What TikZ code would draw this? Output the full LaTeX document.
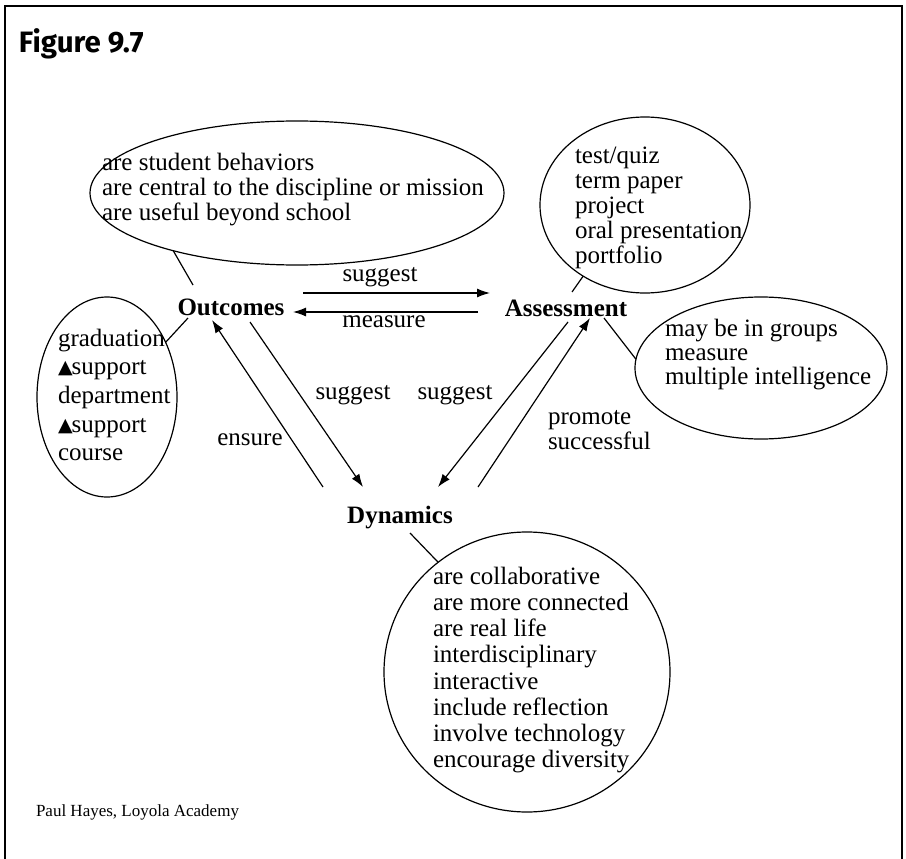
\documentclass[tikz,border=0pt]{standalone}
\usepackage{fontspec}
\setmainfont{Liberation Serif}
\newfontfamily\titlefont{Fira Sans}
\newfontfamily\symfont{DejaVu Sans}
\usetikzlibrary{shapes.geometric,arrows.meta,calc}
\newcommand{\upmark}{\raisebox{1pt}{\symfont\fontsize{19}{19}\selectfont ▲}\kern-1pt}
\begin{document}
\begin{tikzpicture}[x=1pt,y=-1pt,
  every node/.style={inner sep=0pt, outer sep=0pt},
  bubble/.style={draw, ellipse, line width=1.2pt, inner sep=0pt},
  listtext/.style={align=left, anchor=west},
  concept/.style={font=\fontsize{25}{25}\selectfont\bfseries},
  linklabel/.style={font=\fontsize{25}{25}\selectfont},
  link/.style={line width=1.2pt},
  flow/.style={line width=1.2pt, -{Latex[length=13pt,width=9pt]}},
]
\useasboundingbox (0,0) rectangle (906,859);

% outer frame, open at the bottom
\draw[line width=2.2pt] (5,859) -- (5,6) -- (902,6) -- (902,859);

\node[anchor=west, font=\titlefont\bfseries\fontsize{29.5}{29.5}\selectfont] (title) at (19,44) {Figure 9.7};

% the three concepts
\node[concept] (outc) at (231,307) {Outcomes};
\node[concept] (asmt) at (566,308) {Assessment};
\node[concept] (dyn) at (400,518) {Dynamics};

% attribute bubbles
\node[bubble, minimum width=414pt, minimum height=144pt] (topE) at (297,193) {};
\node[listtext, font=\fontsize{25}{25}\selectfont] (topT) at (102,190)
  {are student behaviors\\are central to the discipline or mission\\are useful beyond school};

\node[bubble, minimum width=210pt, minimum height=176pt] (aE) at (645,205) {};
\node[listtext, font=\fontsize{25}{25}\selectfont] (aT) at (575,208)
  {test/quiz\\term paper\\project\\oral presentation\\portfolio};

\node[bubble, minimum width=140pt, minimum height=200pt] (lE) at (107,397) {};
\node[listtext, font=\fontsize{25}{28.7}\selectfont] (lT) at (58,395)
  {graduation\\\upmark support\\department\\\upmark support\\course};

\node[bubble, minimum width=252pt, minimum height=142pt] (rE) at (761,368) {};
\node[listtext, font=\fontsize{25}{24}\selectfont] (rT) at (665,355)
  {may be in groups\\measure\\multiple intelligence};

\node[bubble, minimum width=286pt, minimum height=280pt] (dC) at (527,672) {};
\node[listtext, font=\fontsize{25}{26.2}\selectfont] (dT) at (433,670)
  {are collaborative\\are more connected\\are real life\\interdisciplinary\\interactive\\include reflection\\involve technology\\encourage diversity};

% ties from concepts to their bubbles
\draw[link] (topE.205) -- ($(outc)+(-38,-22)$);
\draw[link] ($(outc)+(-43,11)$) -- (lE.43);
\draw[link] ($(asmt)+(6,-16)$) -- (aE.229);
\draw[link] ($(asmt)+(38,10)$) -- (rE.176);
\draw[link] ($(dyn)+(10,15)$) -- (dC.129);

% relations between the concepts
\draw[flow] ($(outc)+(72,-14)$) -- ($(asmt)+(-76,-15)$);
\draw[flow] ($(asmt)+(-88,4)$) -- ($(outc)+(62,5)$);
\draw[flow] ($(dyn)+(-77,-31)$) -- ($(outc)+(-19,13)$);
\draw[flow] ($(outc)+(19,15)$) -- ($(dyn)+(-37,-31)$);
\draw[flow] ($(asmt)+(2,14)$) -- ($(dyn)+(38,-31)$);
\draw[flow] ($(dyn)+(78,-31)$) -- ($(asmt)+(24,10)$);

\node[linklabel] (lbSugTop) at (380,277) {suggest};
\node[linklabel] (lbMeas) at (384,322) {measure};
\node[linklabel] (lbSugL) at (353,395) {suggest};
\node[linklabel] (lbSugR) at (455,395) {suggest};
\node[linklabel] (lbEns) at (250,440) {ensure};
\node[linklabel, align=left, anchor=west] (lbProm) at (548,430) {promote\\successful};

\node[anchor=west, font=\fontsize{17}{17}\selectfont] (credit) at (36,812) {Paul Hayes, Loyola Academy};
\end{tikzpicture}
\end{document}
